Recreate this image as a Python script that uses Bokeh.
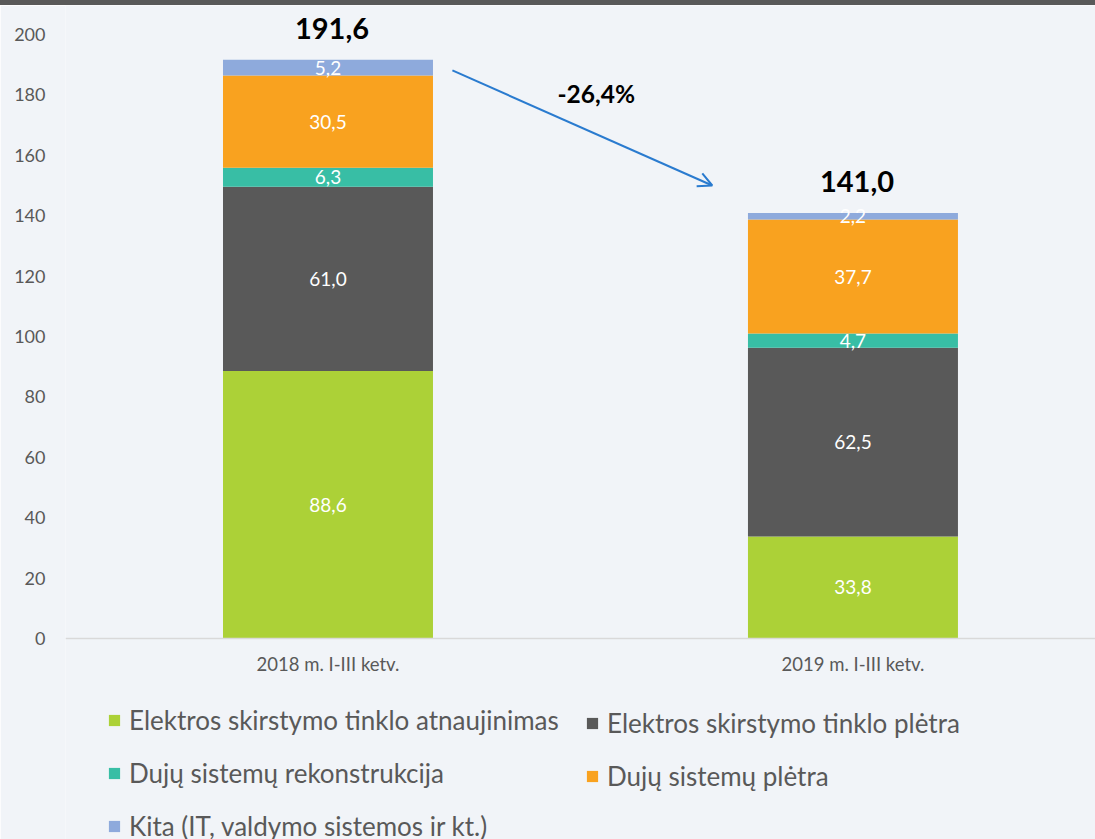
from bokeh.plotting import figure
from bokeh.models import (ColumnDataSource, Legend, LegendItem, FixedTicker, Arrow,
                          OpenHead, Div, Range1d, Label, Span)
from bokeh.layouts import column
from bokeh.core.properties import value
from bokeh.embed import file_html
from bokeh.resources import INLINE

# ---- data ----
categories = ["2018 m. I-III ketv.", "2019 m. I-III ketv."]
series_names = [
    "Elektros skirstymo tinklo atnaujinimas",
    "Elektros skirstymo tinklo plėtra",
    "Dujų sistemų rekonstrukcija",
    "Dujų sistemų plėtra",
    "Kita (IT, valdymo sistemos ir kt.)",
]
elektros_atnaujinimas = [88.6, 33.8]
elektros_pletra = [61.0, 62.5]
duju_rekonstrukcija = [6.3, 4.7]
duju_pletra = [30.5, 37.7]
kita = [5.2, 2.2]
totals = [191.6, 141.0]
y_ticks = [0, 20, 40, 60, 80, 100, 120, 140, 160, 180, 200]

colors = ["#acd137", "#595959", "#38bea5", "#f9a21f", "#8eaadc"]
BG = "#f1f4f8"
FONT = "Lato"

series = [elektros_atnaujinimas, elektros_pletra, duju_rekonstrukcija, duju_pletra, kita]
xs = [i + 0.5 for i in range(len(categories))]

def fmt(v):
    return f"{v:.1f}".replace(".", ",")

W, H = 1095, 834
p = figure(width=W, height=H, output_backend="svg", toolbar_location=None,
           x_range=Range1d(0, 1.962), y_range=Range1d(-66.56, 209.6),
           min_border_left=65, min_border_right=0, min_border_top=0, min_border_bottom=0,
           background_fill_color=BG, border_fill_color=BG, outline_line_color=None)
p.xgrid.visible = False
p.ygrid.visible = False
p.xaxis.visible = False

p.add_layout(Span(location=0, dimension="width", line_color="#d9d9d9", line_width=1.5))

renderers = []
bottoms = [0.0] * len(xs)
lab_x, lab_y, lab_t = [], [], []
for vals, col in zip(series, colors):
    tops = [b + v for b, v in zip(bottoms, vals)]
    src = ColumnDataSource(dict(x=xs, bottom=bottoms, top=tops))
    r = p.vbar(x="x", bottom="bottom", top="top", width=0.4, source=src,
               fill_color=col, line_color=None)
    renderers.append(r)
    for x, b, t, v in zip(xs, bottoms, tops, vals):
        lab_x.append(x); lab_y.append((b + t) / 2); lab_t.append(fmt(v))
    bottoms = tops

p.text(x=lab_x, y=lab_y, text=lab_t, text_align="center", text_baseline="middle",
       text_color="white", text_font=value(FONT), text_font_size="19px")

p.text(x=xs, y=totals, text=[fmt(t) for t in totals], text_align="center",
       text_baseline="middle", x_offset=4, y_offset=-31, text_color="black",
       text_font=value(FONT), text_font_size="29px", text_font_style="bold")

# category labels
p.text(x=xs, y=[0] * len(xs), text=categories, text_align="center", text_baseline="middle",
       y_offset=26, text_color="#595959", text_font=value(FONT), text_font_size="18.5px")

# change arrow
change = (totals[1] / totals[0] - 1) * 100
p.add_layout(Arrow(end=OpenHead(size=14, line_color="#2a7bcf", line_width=2),
                   x_start=xs[0] + 0.237, y_start=totals[0] - 3.5,
                   x_end=xs[1] - 0.268, y_end=totals[1] + 9,
                   line_color="#2a7bcf", line_width=2))
p.add_layout(Label(x=(xs[0] + xs[1]) / 2 + 0.011, y=180.5, text=fmt(change) + "%",
                   text_align="center", text_baseline="middle", text_color="black",
                   text_font=FONT, text_font_size="24.5px", text_font_style="bold"))

p.yaxis.ticker = FixedTicker(ticks=y_ticks)
p.yaxis.axis_line_color = None
p.yaxis.major_tick_line_color = None
p.yaxis.minor_tick_line_color = None
p.yaxis.major_label_standoff = 14
p.yaxis.major_label_text_font = FONT
p.yaxis.major_label_text_font_size = "18px"
p.yaxis.major_label_text_color = "#595959"

def make_legend(idx, loc):
    lg = Legend(items=[LegendItem(label=series_names[i], renderers=[renderers[i]]) for i in idx],
                location=loc, orientation="vertical", padding=0, margin=0, spacing=21,
                glyph_width=14, glyph_height=14, label_height=30, label_standoff=8,
                label_text_font=FONT, label_text_font_size="26px", label_text_color="#595959",
                background_fill_alpha=0, border_line_alpha=0)
    p.add_layout(lg, "center")

make_legend([0, 2, 4], (42, -3))
make_legend([1, 3], (520, 47))

band = Div(width=W, height=5, margin=0, styles={"background-color": "#595959"})
layout = column(band, p, spacing=0)

open("out.html", "w").write(file_html(layout, INLINE))
